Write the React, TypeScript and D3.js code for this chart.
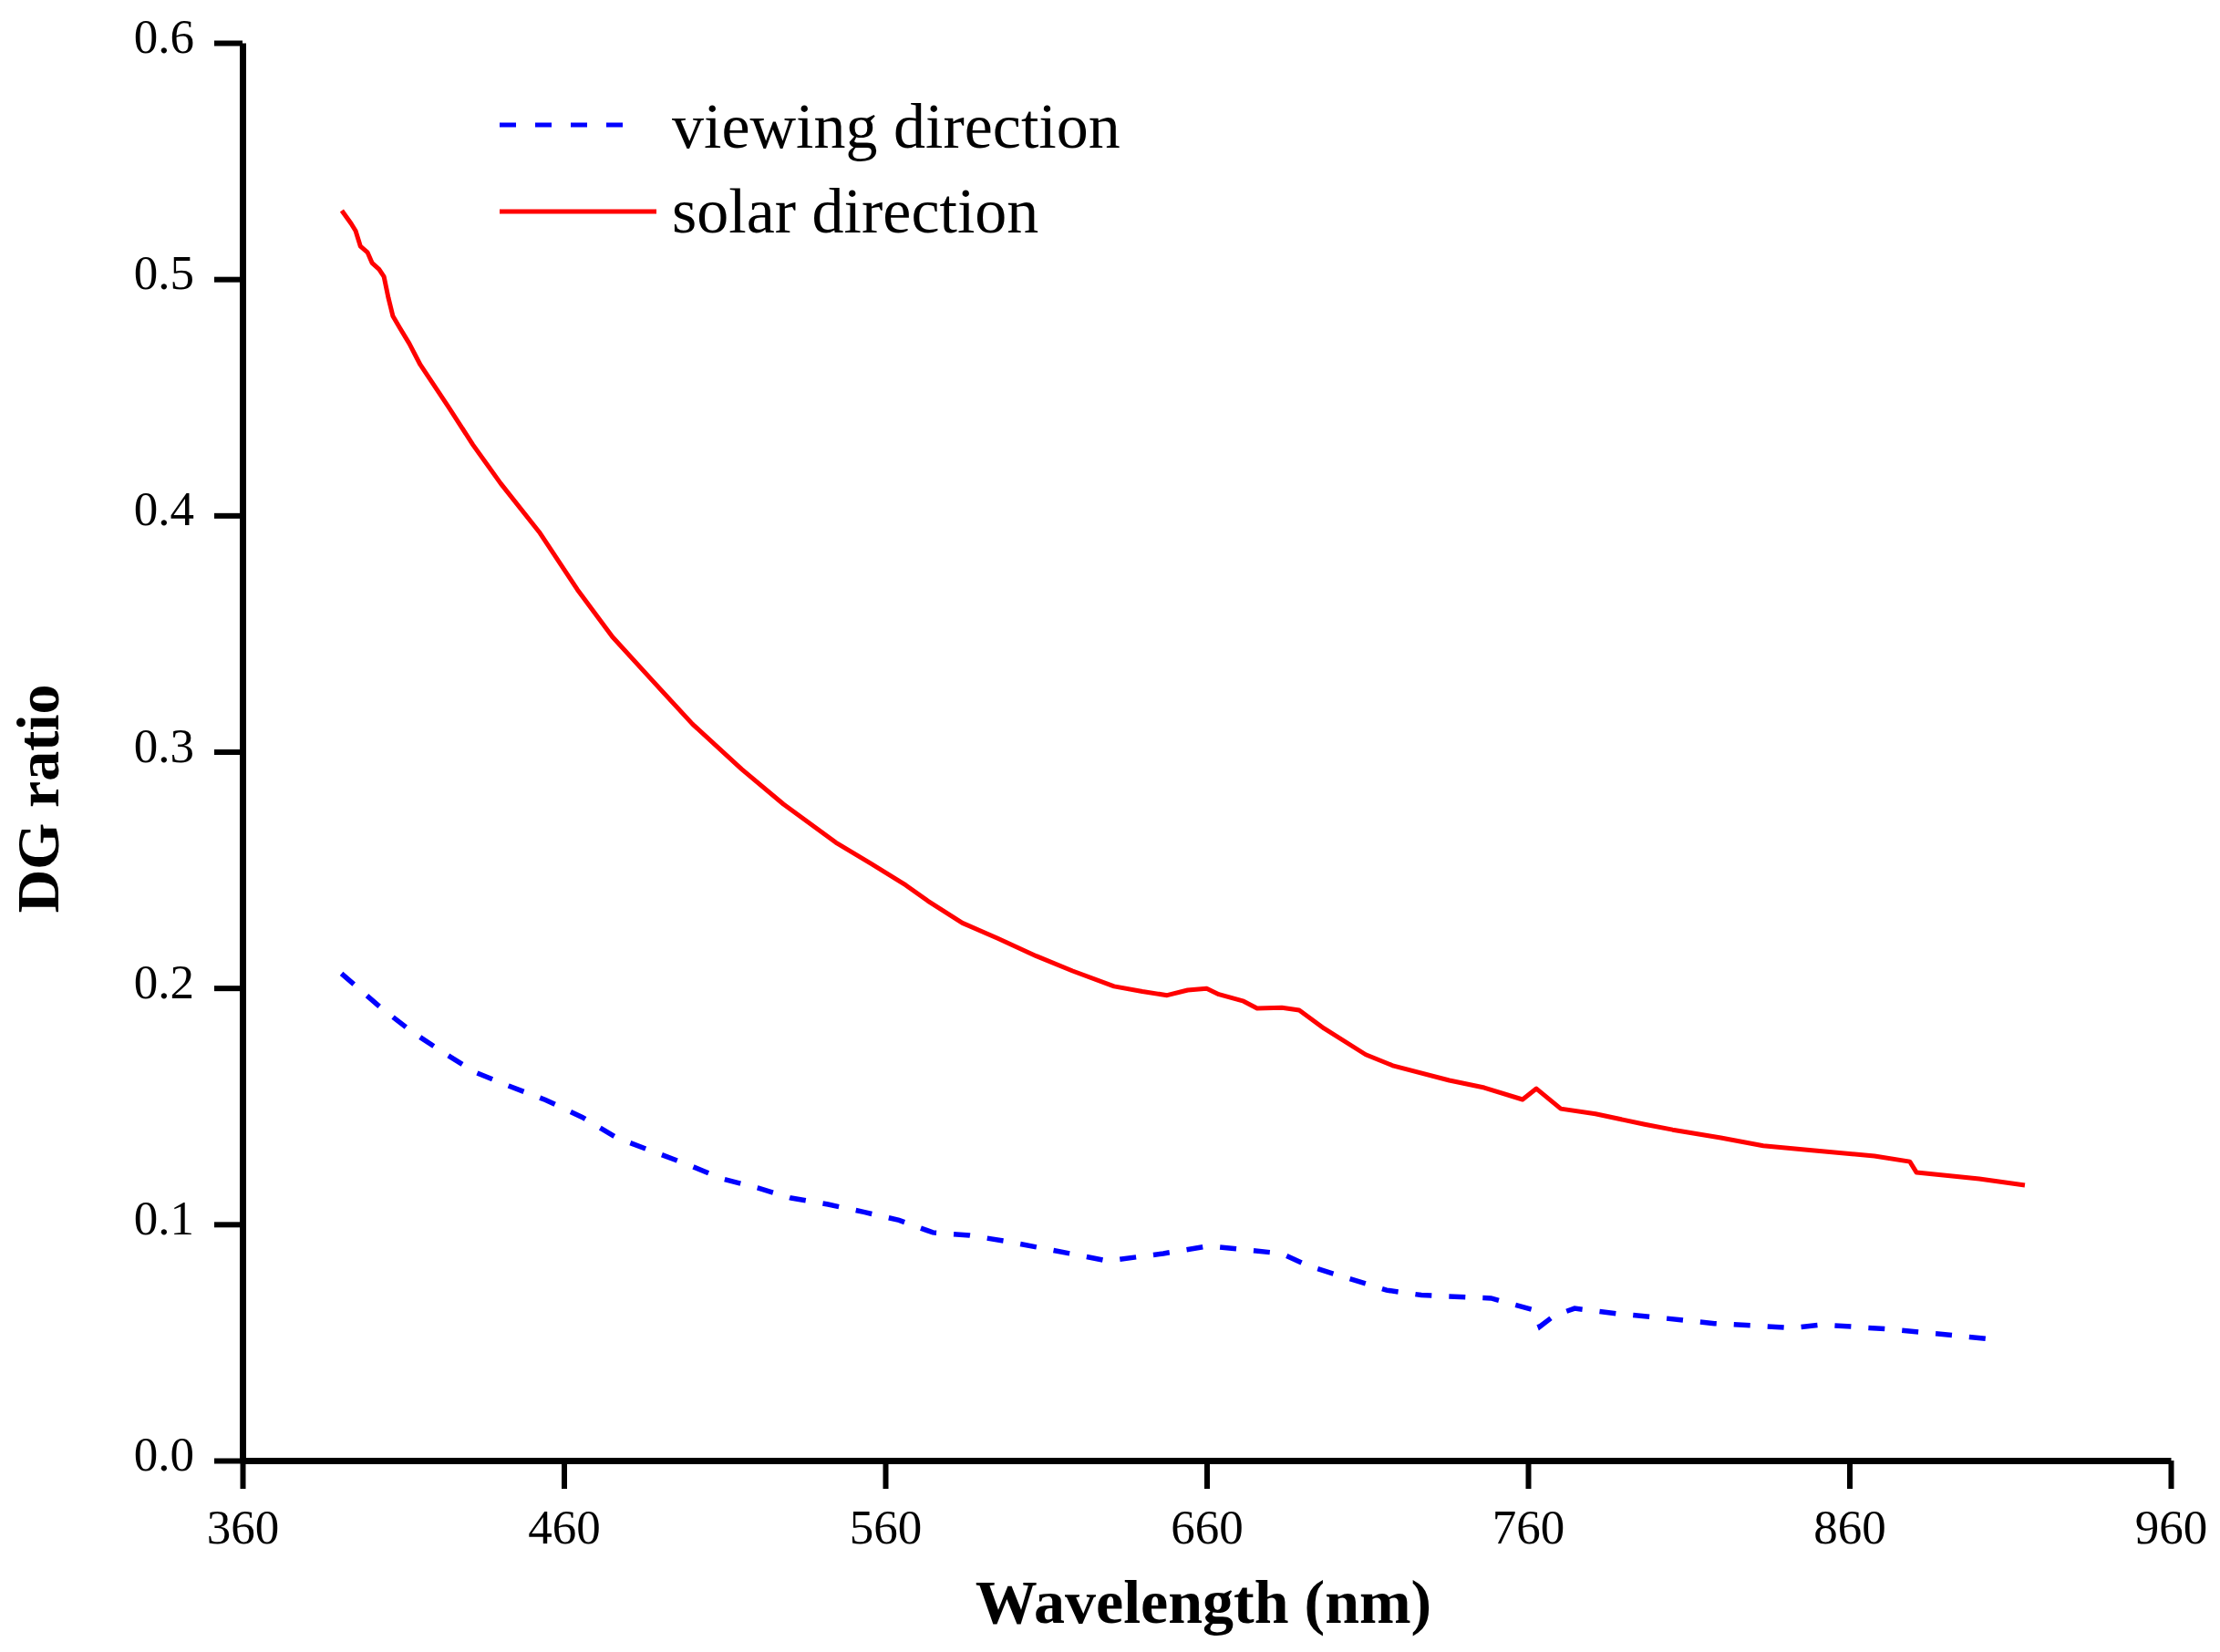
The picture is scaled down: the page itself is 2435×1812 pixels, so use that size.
import { useEffect, useRef } from "react";
import * as d3 from "d3";

// solar direction (red, solid)
const solarWavelength = [
  390.9, 393.8, 395.2, 396.7, 398.9, 400.3, 402.5, 404, 405.4, 406.8, 409, 411.9, 415.3, 424,
  431.7, 440.3, 452.3, 464.2, 475.1, 487, 500, 515.3, 528.3, 544.6, 555.5, 566.4, 573.2, 584,
  595, 607, 618.3, 631.2, 640, 647.7, 654.1, 660, 663.8, 671.5, 675.7, 683.4, 688.8, 696.5,
  709.5, 718.2, 735.5, 746.4, 758.3, 762.6, 770.2, 781, 796.3, 805, 820, 833.2, 848.4, 867.8,
  878.8, 880.9, 900.4, 914.6,
];
const solarRatio = [
  0.529, 0.5235, 0.5204, 0.5139, 0.5113, 0.5069, 0.5042, 0.5011, 0.492, 0.4843, 0.4792, 0.4727,
  0.4638, 0.4461, 0.4299, 0.4136, 0.393, 0.3686, 0.3486, 0.3309, 0.3117, 0.2926, 0.2778, 0.2616,
  0.2527, 0.2435, 0.2369, 0.2275, 0.221, 0.2135, 0.2072, 0.2007, 0.1985, 0.1969, 0.1991, 0.1998,
  0.1973, 0.1944, 0.1914, 0.1917, 0.1906, 0.1829, 0.1718, 0.167, 0.1609, 0.1578, 0.1528, 0.1574,
  0.1489, 0.1467, 0.1423, 0.14, 0.1366, 0.1332, 0.1313, 0.1289, 0.1265, 0.1219, 0.1192, 0.1165,
];

// viewing direction (blue, dashed)
const viewWavelength = [
  390.8, 403, 412.8, 421.8, 432.3, 442.8, 454.3, 465.7, 476.3, 486.9, 498.3, 508.9, 520.3, 530.7,
  542.2, 553.6, 564.3, 574.8, 586.2, 597.6, 618.7, 629.2, 646.5, 660.6, 683.4, 692, 716, 726.8,
  748.5, 761.6, 763.7, 768.1, 774.5, 787.5, 802.8, 818, 830, 841.9, 851.6, 872.2, 894, 906.9,
];
const viewRatio = [
  0.2061, 0.1917, 0.1814, 0.1733, 0.1644, 0.1586, 0.1526, 0.1453, 0.1367, 0.1312, 0.1254, 0.1194,
  0.1154, 0.1111, 0.1084, 0.1051, 0.1017, 0.0965, 0.0953, 0.0928, 0.0873, 0.0845, 0.0876, 0.0908,
  0.0876, 0.0822, 0.0721, 0.07, 0.0687, 0.0638, 0.0567, 0.0613, 0.0644, 0.0622, 0.0602, 0.058,
  0.0571, 0.0561, 0.0575, 0.0556, 0.0528, 0.0509,
];

const xTicks = [360, 460, 560, 660, 760, 860, 960];
const yTicks = [0, 0.1, 0.2, 0.3, 0.4, 0.5, 0.6];

const W = 2435;
const H = 1812;
const FONT = "'Liberation Serif', 'Times New Roman', serif";

export default function App() {
  const svgRef = useRef<SVGSVGElement>(null);

  useEffect(() => {
    document.body.style.margin = "0";
    if (!svgRef.current) return;

    const svg = d3.select(svgRef.current);
    svg.selectAll("*").remove();

    const x = d3.scaleLinear().domain([360, 960]).range([266, 2381]);
    const y = d3.scaleLinear().domain([0, 0.6]).range([1602, 47]);

    // lines
    const line = d3
      .line<[number, number]>()
      .x((d) => x(d[0]))
      .y((d) => y(d[1]));

    const solar = solarWavelength.map((w, i) => [w, solarRatio[i]] as [number, number]);
    const view = viewWavelength.map((w, i) => [w, viewRatio[i]] as [number, number]);

    svg
      .append("path")
      .attr("d", line(view))
      .attr("fill", "none")
      .attr("stroke", "#0000ff")
      .attr("stroke-width", 5.5)
      .attr("stroke-dasharray", "18,19");

    svg
      .append("path")
      .attr("d", line(solar))
      .attr("fill", "none")
      .attr("stroke", "#ff0000")
      .attr("stroke-width", 5)
      .attr("stroke-linejoin", "round");

    // axes
    const xAxis = svg
      .append("g")
      .attr("transform", `translate(0,${y(0)})`)
      .call(
        d3
          .axisBottom(x)
          .tickValues(xTicks)
          .tickSize(31)
          .tickSizeOuter(0)
          .tickPadding(22)
          .tickFormat(d3.format("d"))
      );
    const yAxis = svg
      .append("g")
      .attr("transform", `translate(${x(360)},0)`)
      .call(
        d3
          .axisLeft(y)
          .tickValues(yTicks)
          .tickSize(31)
          .tickSizeOuter(0)
          .tickPadding(22)
          .tickFormat(d3.format(".1f"))
      );

    [xAxis, yAxis].forEach((g) => {
      g.select(".domain").attr("stroke", "#000").attr("stroke-width", 7);
      g.selectAll(".tick line").attr("stroke", "#000").attr("stroke-width", 6);
      g.selectAll(".tick text")
        .attr("fill", "#000")
        .style("font-family", FONT)
        .style("font-size", "53px");
    });
    xAxis.selectAll(".tick text").attr("dy", "0.71em");
    yAxis.selectAll(".tick text").attr("dy", "0.2em");

    // axis titles
    svg
      .append("text")
      .attr("x", 1320)
      .attr("y", 1780)
      .attr("text-anchor", "middle")
      .style("font-family", FONT)
      .style("font-size", "68px")
      .style("font-weight", "bold")
      .text("Wavelength (nm)");

    svg
      .append("text")
      .attr("transform", "translate(64,876) rotate(-90)")
      .attr("text-anchor", "middle")
      .style("font-family", FONT)
      .style("font-size", "66px")
      .style("font-weight", "bold")
      .text("DG ratio");

    // legend
    const legend = [
      { label: "viewing direction", color: "#0000ff", dash: "18,21", x2: 683, ly: 137, ty: 162 },
      { label: "solar direction", color: "#ff0000", dash: null, x2: 720, ly: 232, ty: 255 },
    ];
    legend.forEach((l) => {
      svg
        .append("line")
        .attr("x1", 548)
        .attr("x2", l.x2)
        .attr("y1", l.ly)
        .attr("y2", l.ly)
        .attr("stroke", l.color)
        .attr("stroke-width", 5)
        .attr("stroke-dasharray", l.dash);
      svg
        .append("text")
        .attr("x", 737)
        .attr("y", l.ty)
        .style("font-family", FONT)
        .style("font-size", "70px")
        .text(l.label);
    });
  }, []);

  return (
    <svg
      ref={svgRef}
      width={W}
      height={H}
      viewBox={`0 0 ${W} ${H}`}
      style={{ display: "block", background: "#fff" }}
    />
  );
}
